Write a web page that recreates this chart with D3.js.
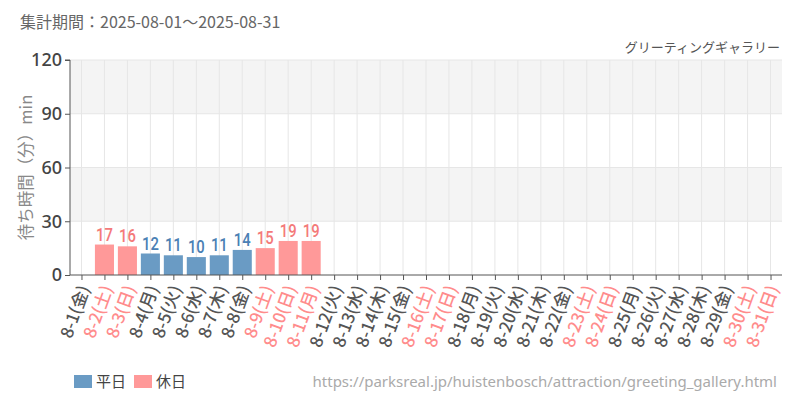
<!DOCTYPE html>
<html><head><meta charset="utf-8">
<script src="https://cdn.jsdelivr.net/npm/d3@7"></script>
<style>body{margin:0;background:#fff}svg{display:block;font-family:"Noto Sans CJK JP","Noto Sans",sans-serif}</style>
</head><body><svg id="c" width="800" height="400"></svg>
<script>
const days = ["8-1","8-2","8-3","8-4","8-5","8-6","8-7","8-8","8-9","8-10","8-11","8-12","8-13","8-14","8-15","8-16","8-17","8-18","8-19","8-20","8-21","8-22","8-23","8-24","8-25","8-26","8-27","8-28","8-29","8-30","8-31"];
const weekdays = ["金","土","日","月","火","水","木","金","土","日","月","火","水","木","金","土","日","月","火","水","木","金","土","日","月","火","水","木","金","土","日"];
const holiday = [0,1,1,0,0,0,0,0,1,1,1,0,0,0,0,1,1,0,0,0,0,0,1,1,0,0,0,0,0,1,1];
const values = [null,17,16,12,11,10,11,14,15,19,19,null,null,null,null,null,null,null,null,null,null,null,null,null,null,null,null,null,null,null,null];
const yTicks = [0,30,60,90,120];
const titleText = "集計期間：2025-08-01～2025-08-31";
const subTitle = "グリーティングギャラリー";
const yLabel = "待ち時間（分）min";
const legendLabels = ["平日","休日"];
const sourceText = "https://parksreal.jp/huistenbosch/attraction/greeting_gallery.html";

const svg = d3.select("#c");
const m = {l:70, r:18, t:60, b:125};
const W = 800, H = 400;
const x = d3.scaleBand().domain(days).range([m.l, W-m.r]).paddingInner(0.17).paddingOuter(0.085);
const xc = d3.scalePoint().domain(days).range([m.l, W-m.r]).padding(0.5);
const y = d3.scaleLinear().domain([0,120]).range([H-m.b, m.t]);
const blue = "#6a9bc4", pink = "#ff9999";

// alternating bands
for (let i=0;i<yTicks.length-1;i++){
  if (i%2===1) svg.append("rect").attr("x",m.l).attr("width",W-m.r-m.l)
    .attr("y",y(yTicks[i+1])).attr("height",y(yTicks[i])-y(yTicks[i+1])).attr("fill","#f4f4f4");
}
// grid
svg.append("g").selectAll("line").data(yTicks.slice(1)).join("line")
  .attr("x1",m.l).attr("x2",W-m.r).attr("y1",d=>y(d)).attr("y2",d=>y(d)).attr("stroke","#e6e6e6");
svg.append("g").selectAll("line").data(days).join("line")
  .attr("x1",d=>xc(d)).attr("x2",d=>xc(d)).attr("y1",m.t).attr("y2",y(0)).attr("stroke","#e6e6e6");

// bars
const data = days.map((d,i)=>({d, v:values[i], h:holiday[i], w:weekdays[i]}));
svg.append("g").selectAll("rect").data(data.filter(e=>e.v!=null)).join("rect")
  .attr("x",e=>xc(e.d)-x.bandwidth()/2).attr("width",x.bandwidth())
  .attr("y",e=>y(e.v)).attr("height",e=>y(0)-y(e.v))
  .attr("fill",e=>e.h?pink:blue);
svg.append("g").selectAll("text").data(data.filter(e=>e.v!=null)).join("text")
  .attr("transform",e=>`translate(${xc(e.d)},${y(e.v)-4}) scale(0.78,1)`)
  .attr("text-anchor","middle").attr("font-size",19).attr("font-family","Roboto, sans-serif")
  .attr("font-weight",500)
  .attr("fill",e=>e.h?"#f47a7a":"#4a80b4").text(e=>e.v);

// y axis
const ya = svg.append("g").attr("transform",`translate(${m.l},0)`)
  .call(d3.axisLeft(y).tickValues(yTicks).tickSize(5).tickPadding(3));
ya.select(".domain").attr("stroke","#555").attr("d",`M-5,${y(120)}H0V${y(0)}`);
ya.selectAll(".tick line").attr("stroke","#555");
ya.selectAll("text").attr("font-size",18).attr("fill","#444").attr("font-weight",500)
  .attr("font-family","'Noto Sans',sans-serif");

// x axis
const xa = svg.append("g").attr("transform",`translate(0,${y(0)})`)
  .call(d3.axisBottom(xc).tickSize(5).tickFormat(""));
xa.select(".domain").attr("stroke","#555").attr("d",`M${m.l},0H${W-m.r}`);
xa.selectAll(".tick line").attr("stroke","#555");
svg.append("g").selectAll("text").data(data).join("text")
  .attr("transform",e=>`translate(${xc(e.d)+3},${y(0)+11}) rotate(-70)`)
  .attr("text-anchor","end").attr("dy","0.35em").attr("font-size",17).attr("font-weight",500)
  .attr("fill",e=>e.h?"#ff8c8c":"#555").text(e=>`${e.d}(${e.w})`);

// y label
svg.append("text").attr("transform",`translate(26,${(y(0)+y(120))/2}) rotate(-90)`)
  .attr("text-anchor","middle").attr("dy","0.35em").attr("font-size",16.5).attr("fill","#888").text(yLabel);

// titles
svg.append("text").attr("x",20).attr("y",28).attr("font-size",16).attr("fill","#666").text(titleText);
svg.append("text").attr("x",W-m.r-2).attr("y",52).attr("text-anchor","end").attr("font-size",13).attr("fill","#555").text(subTitle);

// legend
const lg = svg.append("g");
[[blue,74,legendLabels[0]],[pink,134,legendLabels[1]]].forEach(([c,lx,t])=>{
  lg.append("rect").attr("x",lx).attr("y",375).attr("width",18).attr("height",13).attr("fill",c);
  lg.append("text").attr("x",lx+22).attr("y",382).attr("dy","0.35em").attr("font-size",15).attr("fill","#444").text(t);
});
svg.append("text").attr("x",777).attr("y",382).attr("dy","0.35em").attr("text-anchor","end")
  .attr("font-size",15).attr("fill","#aaa").attr("font-family","'Noto Sans',sans-serif").text(sourceText);
</script></body></html>
